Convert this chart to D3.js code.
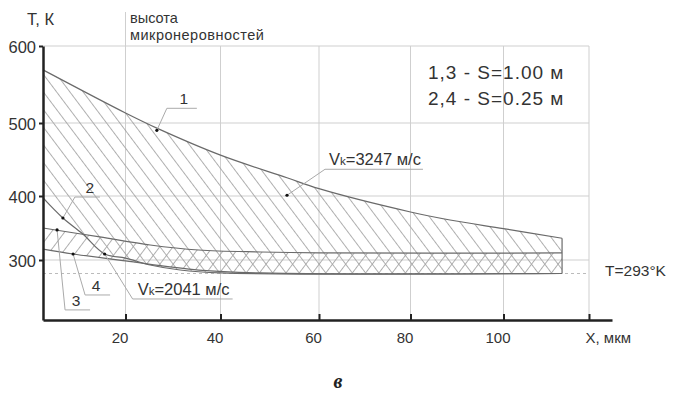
<!DOCTYPE html>
<html>
<head>
<meta charset="utf-8">
<script src="https://cdn.jsdelivr.net/npm/d3@7"></script>
<style>
  html, body { margin: 0; padding: 0; background: #fff; }
  svg { display: block; font-family: "Liberation Sans", Arial, sans-serif; }
</style>
</head>
<body>
<svg id="chart" width="673" height="398"></svg>
<script>
// ---------------- data ----------------
// X, мкм ; T, K
const curve1X = [3, 20, 26.6, 40, 53.5, 60, 80, 88.5, 100, 113.7];
const curve1T = [569, 513, 493, 456, 425, 410, 375, 362.5, 349, 334];
const curve2X = [3, 7.1, 11.2, 15.7, 20, 25.2, 31.5, 40, 113.7];
const curve2T = [397, 365.6, 340.6, 309.4, 303, 297.4, 294.8, 293.3, 293];
const curve3X = [3, 14.7, 25.2, 35.4, 48.2, 60, 113.7];
const curve3T = [350, 336, 323.4, 315.6, 312.5, 311, 311];
const curve4X = [3, 9.2, 20, 35.4, 48.2, 113.7];
const curve4T = [317, 309.4, 299.5, 294.8, 293.3, 293];

const xTickValues = [20, 40, 60, 80, 100, 120];
const xTickLabels = ["20", "40", "60", "80", "100", "X, мкм"];
const yTickValues = [300, 400, 500, 600];
const ambientT = 293;

const legendLines = ["1,3 - S=1.00 м", "2,4 - S=0.25 м"];
const noteNames = ["1", "Vk=3247 м/с", "2", "3", "4", "Vk=2041 м/с"];
const noteX = [26.6, 53.5, 7.1, 5.9, 9.2, 15.7];
const noteT = [490, 401, 365.6, 347, 309.4, 309.4];

// ---------------- layout ----------------
const svg = d3.select("#chart");
const x = d3.scaleLinear()
  .domain([3, 20, 40, 60, 80, 100, 120, 125.4])
  .range([43, 125.5, 220.5, 319, 410.5, 503.5, 589, 612]);
const y = d3.scaleLinear()
  .domain([272, 293, 300, 400, 500, 600])
  .range([320, 273.5, 260, 196, 123, 46]);

const toPts = (xs, ts) => xs.map((v, i) => [v, ts[i]]);
const c1 = toPts(curve1X, curve1T), c2 = toPts(curve2X, curve2T);
const c3 = toPts(curve3X, curve3T), c4 = toPts(curve4X, curve4T);

const defs = svg.append("defs");
function hatch(id, angle) {
  const p = defs.append("pattern").attr("id", id)
    .attr("patternUnits", "userSpaceOnUse")
    .attr("width", 10.6).attr("height", 10)
    .attr("patternTransform", `rotate(${angle})`);
  p.append("line").attr("x1", 0.5).attr("y1", -5).attr("x2", 0.5).attr("y2", 15)
    .attr("stroke", "#a4a4a4").attr("stroke-width", 0.9);
}
hatch("hatchBack", -37);
hatch("hatchFwd", 37);

// grid
const grid = svg.append("g").attr("stroke", "#cfcfcf").attr("stroke-width", 1);
grid.selectAll("line.h").data(yTickValues).join("line")
  .attr("x1", x(3)).attr("x2", x(120))
  .attr("y1", d => y(d)).attr("y2", d => y(d));
grid.selectAll("line.v").data(xTickValues).join("line")
  .attr("x1", d => x(d)).attr("x2", d => x(d))
  .attr("y1", d => d === 20 ? 12 : y(600)).attr("y2", y(272));
svg.append("line").attr("x1", x(3)).attr("x2", x(120))
  .attr("y1", y(ambientT)).attr("y2", y(ambientT))
  .attr("stroke", "#bbbbbb").attr("stroke-dasharray", "3,3");

// hatched regions
const curveType = d3.curveCatmullRom.alpha(0.5);
const below = d3.area().x(d => x(d[0])).y0(y(272)).y1(d => y(d[1])).curve(curveType);
const above = d3.area().x(d => x(d[0])).y0(0).y1(d => y(d[1])).curve(curveType);
defs.append("clipPath").attr("id", "clip2").append("path").attr("d", above(c2));
defs.append("clipPath").attr("id", "clip4").append("path").attr("d", above(c4));
svg.append("path").attr("d", below(c1)).attr("fill", "url(#hatchBack)").attr("clip-path", "url(#clip2)");
svg.append("path").attr("d", below(c3)).attr("fill", "url(#hatchFwd)").attr("clip-path", "url(#clip4)");

// curves
const line = d3.line().x(d => x(d[0])).y(d => y(d[1])).curve(curveType);
svg.selectAll("path.curve").data([c1, c2, c3, c4]).join("path")
  .attr("class", "curve").attr("d", line)
  .attr("fill", "none").attr("stroke", "#6a6a6a").attr("stroke-width", 1.2);
svg.append("line")
  .attr("x1", x(curve1X[curve1X.length - 1])).attr("x2", x(curve1X[curve1X.length - 1]))
  .attr("y1", y(curve1T[curve1T.length - 1])).attr("y2", y(ambientT))
  .attr("stroke", "#6a6a6a").attr("stroke-width", 1.2);

// axes
const xAxis = d3.axisBottom(x).tickValues(xTickValues).tickSize(-6).tickSizeOuter(0)
  .tickFormat((d, i) => xTickLabels[i]);
const gx = svg.append("g").attr("transform", `translate(0,${y(272)})`).call(xAxis);
gx.select(".domain").attr("stroke", "#222").attr("stroke-width", 2.5);
gx.selectAll(".tick line").attr("stroke", "#222").attr("stroke-width", 2);
gx.selectAll(".tick text").attr("font-size", 15).attr("fill", "#333")
  .attr("font-family", "Liberation Sans, Arial, sans-serif")
  .attr("y", 12).attr("dx", (d, i) => i === xTickLabels.length - 1 ? 0 : -6)
  .attr("text-anchor", (d, i) => i === xTickLabels.length - 1 ? "start" : "middle")
  .attr("x", (d, i) => i === xTickLabels.length - 1 ? -4 : 0);

const yAxis = d3.axisLeft(y).tickValues(yTickValues).tickSize(4).tickSizeOuter(0);
const gy = svg.append("g").attr("transform", `translate(${x(3)},0)`).call(yAxis);
gy.select(".domain").attr("stroke", "#222").attr("stroke-width", 2.5);
gy.selectAll(".tick line").attr("stroke", "#222").attr("stroke-width", 2);
gy.selectAll(".tick text").attr("font-size", 16.5).attr("fill", "#333")
  .attr("font-family", "Liberation Sans, Arial, sans-serif")
  .attr("x", -7).attr("dy", "0.4em");

// titles
const txt = (t, px, py, size, anchor) => svg.append("text").attr("x", px).attr("y", py)
  .attr("font-size", size).attr("fill", "#333").attr("text-anchor", anchor || "start").text(t);
txt("T, К", 27, 25, 16.5);
txt("высота", 130, 22.5, 14.5);
txt("микронеровностей", 130, 39.5, 14.5).attr("letter-spacing", 0.5);
legendLines.forEach((t, i) => txt(t, 428, 79 + i * 25.5, 19).attr("letter-spacing", 1));
txt("T=293°K", 605, y(ambientT) + 2, 15.5);
svg.append("text").attr("x", 338).attr("y", 388).attr("font-size", 20)
  .attr("font-family", "Liberation Serif, serif").attr("font-style", "italic")
  .attr("font-weight", "bold").attr("fill", "#222").attr("text-anchor", "middle").text("в");

// annotations: dot -> elbow -> underline, label above underline
const noteLayout = [
  { ex: 10, ey: -22, len: 30, tx: 17, anchor: "middle", size: 15.5 },
  { ex: 38, ey: -26, len: 98, tx: 4, anchor: "start", size: 16.5 },
  { ex: 12, ey: -21, len: 25, tx: 15, anchor: "middle", size: 15.5 },
  { ex: 8, ey: 80, len: 25, tx: 11, anchor: "middle", size: 15.5 },
  { ex: 12, ey: 41, len: 25, tx: 11, anchor: "middle", size: 15.5 },
  { ex: 28, ey: 45, len: 100, tx: 5, anchor: "start", size: 16.5 }
];
noteNames.forEach((name, i) => {
  const L = noteLayout[i];
  const px = x(noteX[i]), py = y(noteT[i]);
  const ex = px + L.ex, ey = py + L.ey;
  svg.append("path").attr("d", `M${px},${py}L${ex},${ey}L${ex + L.len},${ey}`)
    .attr("fill", "none").attr("stroke", "#aaaaaa").attr("stroke-width", 1);
  svg.append("circle").attr("cx", px).attr("cy", py).attr("r", 1.6).attr("fill", "#111");
  const t = svg.append("text").attr("x", ex + L.tx).attr("y", ey - 4)
    .attr("font-size", L.size).attr("fill", "#333").attr("text-anchor", L.anchor);
  if (name.startsWith("Vk")) {
    t.append("tspan").text("V");
    t.append("tspan").attr("font-size", L.size * 0.7).text("k");
    t.append("tspan").text(name.slice(2));
  } else {
    t.text(name);
  }
});
</script>
</body>
</html>
